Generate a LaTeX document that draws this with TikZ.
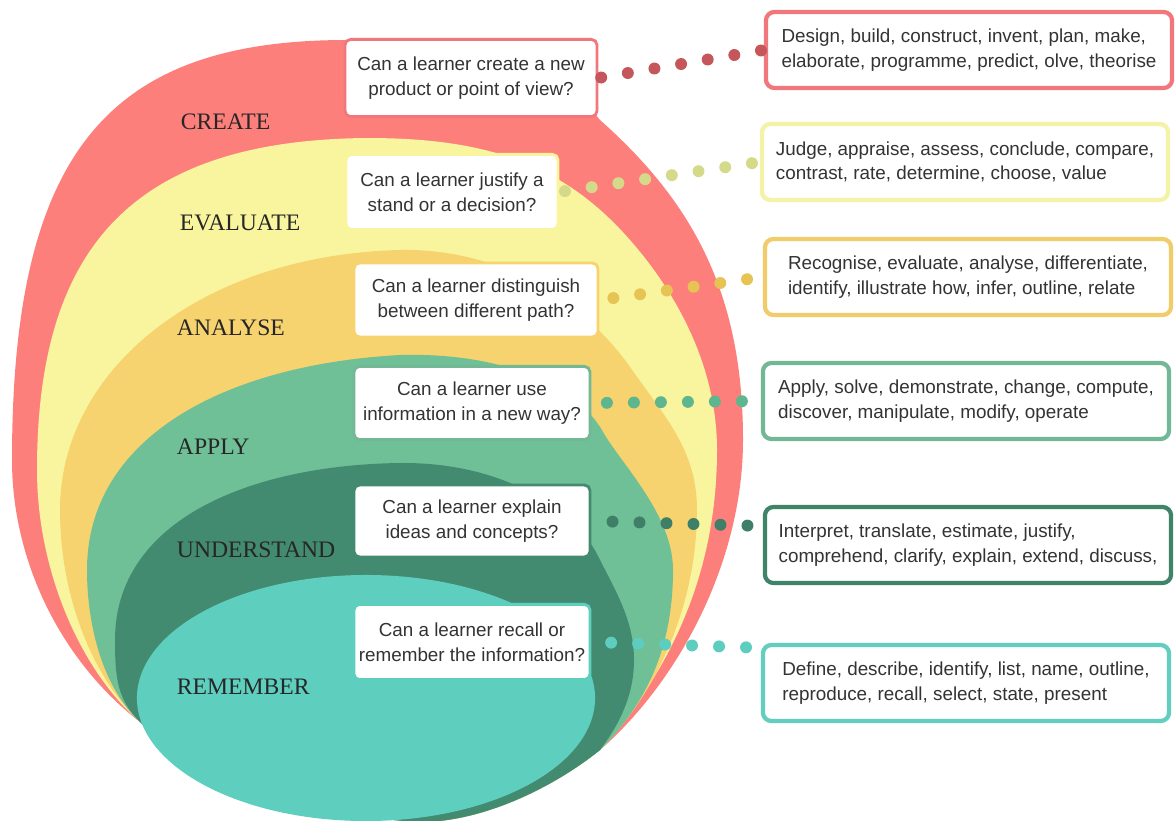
\documentclass[tikz,border=0pt]{standalone}
\usepackage{fontspec}
\setmainfont{Liberation Sans}
\newfontfamily\levelfont{Liberation Serif}
\usepackage{xcolor}
\definecolor{createcol}{HTML}{FD7F7C}
\definecolor{evaluatecol}{HTML}{F8F59E}
\definecolor{analysecol}{HTML}{F6D36F}
\definecolor{applycol}{HTML}{6FBF97}
\definecolor{understandcol}{HTML}{438B70}
\definecolor{remembercol}{HTML}{5ECFBF}
\definecolor{createrim}{HTML}{F0787C}
\definecolor{evaluaterim}{HTML}{F4F2A6}
\definecolor{analyserim}{HTML}{F0CD6A}
\definecolor{applyrim}{HTML}{72B896}
\definecolor{understandrim}{HTML}{3F8468}
\definecolor{rememberrim}{HTML}{62CEBF}
\definecolor{createdot}{HTML}{C4565C}
\definecolor{evaluatedot}{HTML}{D5DA8B}
\definecolor{analysedot}{HTML}{E6C454}
\definecolor{applydot}{HTML}{5DB68E}
\definecolor{understanddot}{HTML}{3F7F68}
\definecolor{rememberdot}{HTML}{5CCDBE}
\tikzset{
  question/.style={draw=#1,fill=white,line width=2pt,rounded corners=4pt,align=center,
    font=\fontsize{13.4}{17.6}\selectfont,text=black!80},
  verbbox/.style={draw=#1,fill=white,line width=3pt,rounded corners=6pt,align=left,
    minimum width=10.15cm,minimum height=1.9cm,font=\fontsize{13.4}{17.6}\selectfont,text=black!80},
  levelname/.style={anchor=west,font=\levelfont\fontsize{16.8}{20}\selectfont,text=black!85},
  dotrow/.style={draw=#1,line width=8.5pt,line cap=round,dash pattern=on 0pt off 19.2pt},
}
\begin{document}
\begin{tikzpicture}[x=0.025cm,y=-0.025cm]
\fill[white] (0,0) rectangle (1176,821);
\useasboundingbox (0,0) rectangle (1176,821);

% nested layers, all closing through the same bottom
\fill[createcol] (140,722) .. controls (60,660) and (12,560) .. (12,460)
  .. controls (12,150) and (110,40) .. (347,40)
  .. controls (470,38) and (540,45) .. (600,120)
  .. controls (690,200) and (743,290) .. (743,440)
  .. controls (743,560) and (680,680) .. (600,750)
  .. controls (550,790) and (480,822) .. (420,822)
  .. controls (330,818) and (200,780) .. (140,722) -- cycle;
\fill[evaluatecol] (140,722) .. controls (80,670) and (37,570) .. (37,470)
  .. controls (37,250) and (130,140) .. (367,138)
  .. controls (480,138) and (560,160) .. (630,240)
  .. controls (680,297) and (717,370) .. (717,450)
  .. controls (717,560) and (680,660) .. (600,750)
  .. controls (550,790) and (480,822) .. (420,822)
  .. controls (330,818) and (200,780) .. (140,722) -- cycle;
\fill[analysecol] (140,722) .. controls (95,680) and (60,600) .. (60,510)
  .. controls (60,370) and (200,255) .. (400,250)
  .. controls (510,248) and (590,310) .. (630,367)
  .. controls (665,417) and (697,450) .. (697,510)
  .. controls (697,600) and (660,690) .. (600,750)
  .. controls (550,790) and (480,822) .. (420,822)
  .. controls (330,818) and (200,780) .. (140,722) -- cycle;
\fill[applycol] (140,722) .. controls (105,690) and (87,630) .. (87,570)
  .. controls (87,440) and (220,365) .. (400,355)
  .. controls (510,352) and (580,390) .. (603,432)
  .. controls (622,465) and (673,515) .. (673,570)
  .. controls (673,650) and (645,705) .. (600,750)
  .. controls (550,790) and (480,822) .. (420,822)
  .. controls (330,818) and (200,780) .. (140,722) -- cycle;
\fill[understandcol] (140,722) .. controls (118,700) and (115,680) .. (115,640)
  .. controls (115,520) and (250,465) .. (400,463)
  .. controls (510,462) and (578,515) .. (598,556)
  .. controls (615,590) and (634,620) .. (634,660)
  .. controls (634,700) and (615,730) .. (600,750)
  .. controls (550,790) and (480,822) .. (420,822)
  .. controls (330,818) and (200,780) .. (140,722) -- cycle;
\fill[remembercol] (366,698) ellipse [x radius=5.725cm,y radius=3.075cm];

% level names
\node[levelname] (lcreate) at (176,122) {CREATE};
\node[levelname] (levaluate) at (175,223) {EVALUATE};
\node[levelname] (lanalyse) at (172,328) {ANALYSE};
\node[levelname] (lapply) at (172,447) {APPLY};
\node[levelname] (lunderstand) at (172,550) {UNDERSTAND};
\node[levelname] (lremember) at (172,687) {REMEMBER};

% questions
\node[question=createrim,minimum width=6.3cm,minimum height=1.93cm] (qcreate) at (471,78)
  {Can a learner create a new\\product or point of view?};
\node[question=evaluatecol,minimum width=5.3cm,minimum height=1.88cm] (qevaluate) at (452,192)
  {Can a learner justify a\\stand or a decision?};
\node[question=analysecol,minimum width=6.1cm,minimum height=1.85cm] (qanalyse) at (476,300)
  {Can a learner distinguish\\between different path?};
\node[question=applyrim,minimum width=5.9cm,minimum height=1.83cm] (qapply) at (472,403)
  {Can a learner use\\information in a new way?};
\node[question=understandcol,minimum width=5.9cm,minimum height=1.8cm] (qunderstand) at (472,521)
  {Can a learner explain\\ideas and concepts?};
\node[question=remembercol,minimum width=5.9cm,minimum height=1.88cm] (qremember) at (472,642)
  {Can a learner recall or\\remember the information?};

% verbs
\node[verbbox=createrim] (rcreate) at (969,50)
  {Design, build, construct, invent, plan, make,\\elaborate, programme, predict, olve, theorise};
\node[verbbox=evaluaterim] (revaluate) at (965,162)
  {Judge, appraise, assess, conclude, compare,\\contrast, rate, determine, choose, value};
\node[verbbox=analyserim] (ranalyse) at (968,277)
  {Recognise, evaluate, analyse, differentiate,\\identify, illustrate how, infer, outline, relate};
\node[verbbox=applyrim] (rapply) at (966,401)
  {Apply, solve, demonstrate, change, compute,\\discover, manipulate, modify, operate};
\node[verbbox=understandrim] (runderstand) at (968,545)
  {Interpret, translate, estimate, justify,\\comprehend, clarify, explain, extend, discuss,};
\node[verbbox=rememberrim] (rremember) at (966,683)
  {Define, describe, identify, list, name, outline,\\reproduce, recall, select, state, present};

% dotted links
\draw[dotrow=createdot,shorten <=2pt,shorten >=2pt] (qcreate.east) -- (rcreate.west);
\draw[dotrow=evaluatedot,shorten <=4pt,shorten >=2pt] (qevaluate.east) -- (revaluate.west);
\draw[dotrow=analysedot,shorten <=10pt,shorten >=2pt] (qanalyse.east) -- (ranalyse.west);
\draw[dotrow=applydot,shorten <=11pt,shorten >=2pt] (qapply.east) -- (rapply.west);
\draw[dotrow=understanddot,shorten <=15pt,shorten >=5pt] (qunderstand.east) -- ([yshift=13.5pt]runderstand.west);
\draw[dotrow=rememberdot,shorten <=14pt,shorten >=3pt] (qremember.east) -- ([yshift=25pt]rremember.west);

\end{tikzpicture}
\end{document}
